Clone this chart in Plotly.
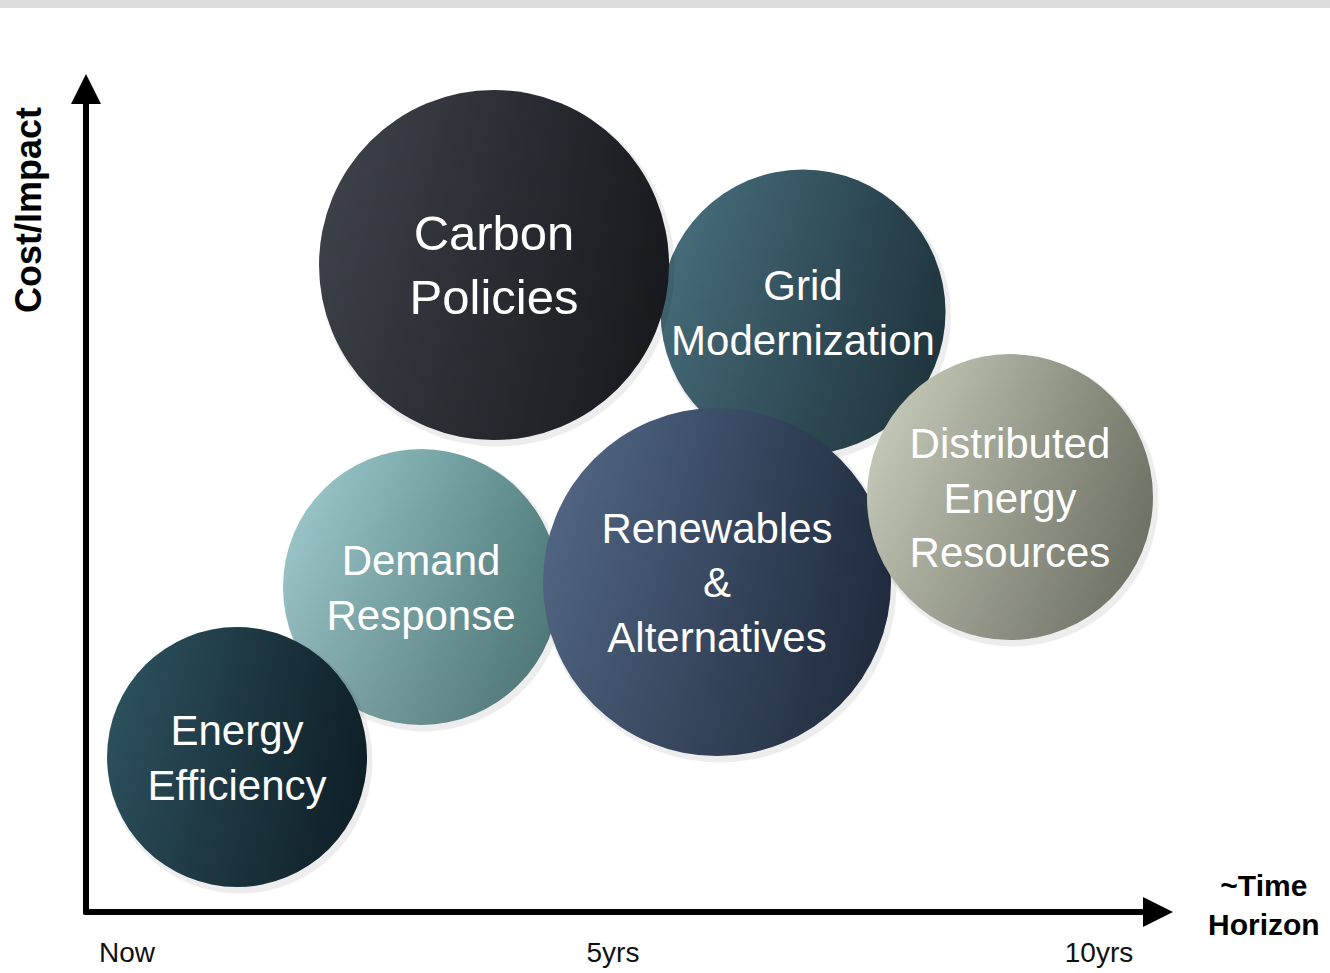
import plotly.graph_objects as go

# ---- data (drawing order: back to front) ----
labels = ["Grid<br>Modernization", "Carbon<br>Policies", "Demand<br>Response",
          "Renewables<br>&<br>Alternatives", "Distributed<br>Energy<br>Resources",
          "Energy<br>Efficiency"]
time_horizon = [6.955, 3.776, 3.025, 6.07, 9.084, 1.132]     # years
cost_impact = [6.667, 7.189, 3.611, 3.667, 4.611, 1.722]      # relative units
bubble_scale = [2.85, 3.50, 2.76, 3.48, 2.86, 2.60]           # relative bubble magnitude
light_colors = ["#4b7382", "#41454d", "#a3d0d3", "#566c8c", "#d0d4c2", "#2f5664"]
dark_colors = ["#233b45", "#1a1c21", "#588686", "#233044", "#7b7f70", "#10222b"]
label_sizes = [42, 49, 42, 42, 42, 42]
tick_values = [0, 5, 10]
tick_labels = ["Now", "5yrs", "10yrs"]

FONT = "Liberation Sans, Arial, sans-serif"
W, H, PLOT_H = 1330, 973, 912
X_RANGE = [-1.3066, 12.3765]
Y_RANGE = [0, 10.1333]
PX_X = (X_RANGE[1] - X_RANGE[0]) / W       # data units per pixel (x)
PX_Y = (Y_RANGE[1] - Y_RANGE[0]) / PLOT_H  # data units per pixel (y)

fig = go.Figure()

for i in range(len(labels)):
    # soft drop shadow (offset down-right by a few pixels)
    fig.add_trace(go.Scatter(
        x=[time_horizon[i] + 3 * PX_X], y=[cost_impact[i] - 4 * PX_Y], mode="markers",
        marker=dict(size=[bubble_scale[i] + 0.05], sizemode="diameter", sizeref=0.01,
                    color="rgba(0,0,0,0.10)", line=dict(width=0)),
        hoverinfo="skip", showlegend=False))
    # base disk with left-to-right shading
    fig.add_trace(go.Scatter(
        x=[time_horizon[i]], y=[cost_impact[i]], mode="markers",
        marker=dict(size=[bubble_scale[i]], sizemode="diameter", sizeref=0.01,
                    color=light_colors[i],
                    gradient=dict(type="horizontal", color=dark_colors[i]),
                    line=dict(width=0), opacity=1),
        hoverinfo="skip", showlegend=False))
    # top-to-bottom darkening overlay
    fig.add_trace(go.Scatter(
        x=[time_horizon[i]], y=[cost_impact[i]], mode="markers",
        marker=dict(size=[bubble_scale[i]], sizemode="diameter", sizeref=0.01,
                    color="rgba(0,0,0,0)",
                    gradient=dict(type="vertical", color="rgba(0,0,0,0.25)"),
                    line=dict(width=0)),
        hoverinfo="skip", showlegend=False))
    # label (nudged a few pixels down to sit optically centred)
    fig.add_trace(go.Scatter(
        x=[time_horizon[i]], y=[cost_impact[i] - 5 * PX_Y], mode="text",
        text=[labels[i]], textposition="middle center",
        textfont=dict(family=FONT, size=label_sizes[i], color="white"),
        hoverinfo="skip", showlegend=False))

# axis arrows
x_start = X_RANGE[0] + 83 * PX_X
x_tip = X_RANGE[0] + 1173 * PX_X
y_axis_x = X_RANGE[0] + 86 * PX_X
y_tip = Y_RANGE[1] - 74 * PX_Y
annotations = [
    dict(x=x_tip, y=0, ax=x_start, ay=0, xref="x", yref="y", axref="x", ayref="y",
         showarrow=True, arrowhead=2, arrowsize=1, arrowwidth=6, arrowcolor="black", text=""),
    dict(x=y_axis_x, y=y_tip, ax=y_axis_x, ay=-4 * PX_Y, xref="x", yref="y", axref="x", ayref="y",
         showarrow=True, arrowhead=2, arrowsize=1, arrowwidth=6, arrowcolor="black", text=""),
    dict(x=28 / W, y=(PLOT_H - 210) / PLOT_H, xref="paper", yref="paper", text="Cost/Impact",
         textangle=-90, showarrow=False, xanchor="center", yanchor="middle",
         font=dict(family=FONT, size=36, color="black", weight="bold")),
    dict(x=1264 / W, y=(PLOT_H - 905) / PLOT_H, xref="paper", yref="paper", text="~Time<br>Horizon",
         showarrow=False, xanchor="center", yanchor="middle", align="center",
         font=dict(family=FONT, size=30, color="black", weight="bold")),
]

fig.update_layout(
    template="none",
    width=W, height=H,
    margin=dict(l=0, r=0, t=0, b=H - PLOT_H),
    paper_bgcolor="white", plot_bgcolor="white",
    showlegend=False,
    annotations=annotations,
    shapes=[dict(type="rect", xref="paper", yref="paper", x0=0, x1=1,
                 y0=(PLOT_H - 8) / PLOT_H, y1=1, fillcolor="#dcdcdc", line=dict(width=0),
                 layer="below")],
    xaxis=dict(range=X_RANGE, tickvals=tick_values, ticktext=tick_labels,
               ticks="outside", ticklen=15, tickcolor="rgba(0,0,0,0)",
               showgrid=False, zeroline=False, showline=False, fixedrange=True,
               tickfont=dict(family=FONT, size=28, color="#111111")),
    yaxis=dict(range=Y_RANGE, visible=False, showgrid=False, zeroline=False, fixedrange=True),
)

fig.write_html("out.html", config={"displayModeBar": False},
               post_script="document.body.style.margin='0';document.body.style.overflow='hidden';")
